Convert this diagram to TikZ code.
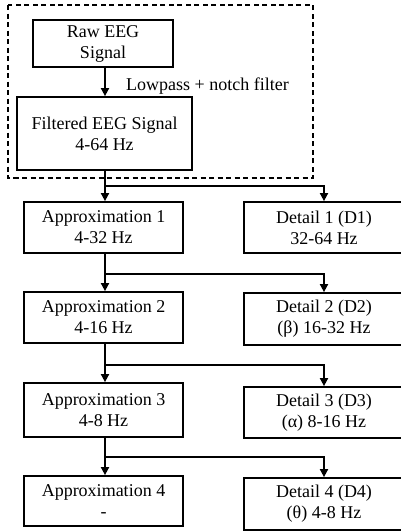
\documentclass[tikz,border=0pt]{standalone}
\usepackage{fontspec}
\setmainfont{Liberation Serif}
\usetikzlibrary{arrows.meta}
\begin{document}
\begin{tikzpicture}[x=1pt,y=1pt,
  box/.style={draw,line width=1.8pt,inner sep=0pt,align=center,font=\fontsize{18}{21}\selectfont},
  arr/.style={line width=1.8pt,-{Triangle[length=8pt,width=8pt]}},
  ln/.style={line width=1.8pt}]
\useasboundingbox (0,0) rectangle (401,-531);
\draw[dashed,line width=1.1pt,dash pattern=on 5pt off 3.5pt] (8,-5) rectangle (313,-178);
\coordinate (tx) at (105,0);
\node[box,minimum width=140pt,minimum height=47pt] (raw) at (103,-43.5) {Raw EEG\\Signal};
\node[box,minimum width=175pt,minimum height=73pt] (filt) at (104.5,-133.5) {Filtered EEG Signal\\4-64 Hz};
\node[anchor=base west,inner sep=0pt,font=\fontsize{18}{21}\selectfont] (lbl) at (126,-90) {Lowpass + notch filter};
\node[box,minimum width=159pt,minimum height=51pt] (a1) at (103.5,-227.5) {Approximation 1\\4-32 Hz};
\node[box,minimum width=160pt,minimum height=51pt] (d1) at (324,-227.5) {Detail 1 (D1)\\32-64 Hz};
\node[box,minimum width=159pt,minimum height=51pt] (a2) at (103.5,-317.5) {Approximation 2\\4-16 Hz};
\node[box,minimum width=160pt,minimum height=52pt] (d2) at (324,-319) {Detail 2 (D2)\\(β) 16-32 Hz};
\node[box,minimum width=159pt,minimum height=54pt] (a3) at (103.5,-410) {Approximation 3\\4-8 Hz};
\node[box,minimum width=160pt,minimum height=51pt] (d3) at (324,-412.5) {Detail 3 (D3)\\(α) 8-16 Hz};
\node[box,minimum width=159pt,minimum height=50pt] (a4) at (103.5,-501) {Approximation 4\\-};
\node[box,minimum width=160pt,minimum height=52pt] (d4) at (324,-504) {Detail 4 (D4)\\(θ) 4-8 Hz};
\coordinate (b1) at (105,-186);
\coordinate (b2) at (105,-274);
\coordinate (b3) at (105,-365);
\coordinate (b4) at (105,-457);
\draw[arr] (raw.south -| tx) -- (filt.north -| tx);
\draw[ln] (filt.south -| tx) -- (b1);
\draw[arr] (b1) -- (a1.north -| tx);
\draw[arr] (b1) -| (d1.north);
\draw[ln] (a1.south -| tx) -- (b2);
\draw[arr] (b2) -- (a2.north -| tx);
\draw[arr] (b2) -| (d2.north);
\draw[ln] (a2.south -| tx) -- (b3);
\draw[arr] (b3) -- (a3.north -| tx);
\draw[arr] (b3) -| (d3.north);
\draw[ln] (a3.south -| tx) -- (b4);
\draw[arr] (b4) -- (a4.north -| tx);
\draw[arr] (b4) -| (d4.north);
\end{tikzpicture}
\end{document}
